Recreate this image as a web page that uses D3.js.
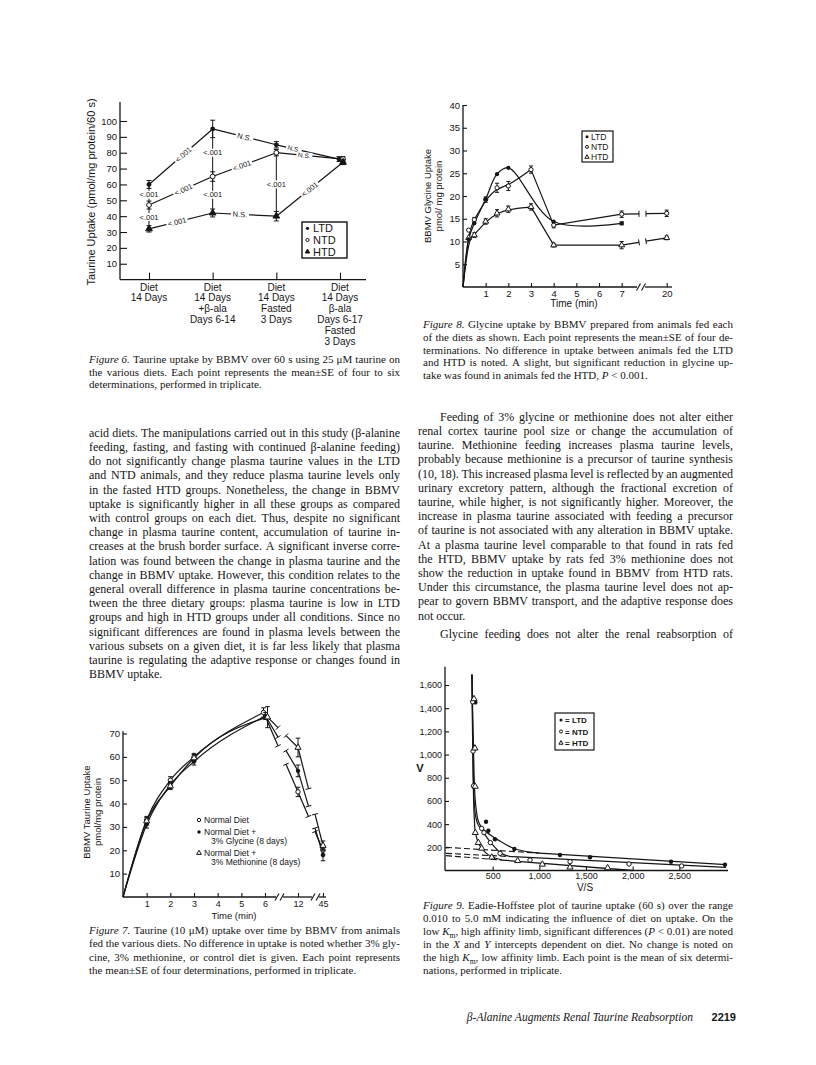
<!DOCTYPE html>
<html><head><meta charset="utf-8">
<script src="https://cdn.jsdelivr.net/npm/d3@7"></script>
<style>html,body{margin:0;padding:0;background:#fff;}svg{display:block;}</style>
</head><body>
<svg id="page" width="816" height="1065"></svg>
<script>
// ================= DATA =================
// Figure 6
const fig6Categories = [["Diet","14 Days"],["Diet","14 Days","+β-ala","Days 6-14"],["Diet","14 Days","Fasted","3 Days"],["Diet","14 Days","β-ala","Days 6-17","Fasted","3 Days"]];
const fig6LTD = [60, 95, 85, 76];
const fig6NTD = [47, 65, 80, 76];
const fig6HTD = [32, 42, 40, 74];
const fig6LTDse = [2.5, 5.5, 2, 1.5];
const fig6NTDse = [2.5, 3, 2, 1.5];
const fig6HTDse = [2, 2.5, 3, 1.5];
const fig6YTicks = [10, 20, 30, 40, 50, 60, 70, 80, 90, 100];
const fig6LTDlabels = ["<.001", "N.S.", "N.S."];
const fig6NTDlabels = ["<.001", "<.001", "N.S."];
const fig6HTDlabels = ["<.001", "N.S.", "<.001"];
const fig6ColumnLabel = "<.001";
const fig6Legend = ["LTD", "NTD", "HTD"];
// Figure 7
const fig7Times = [0, 1, 2, 3, 6, 12, 45];
const fig7Normal = [0, 33, 50, 60, 79, 45, 20];
const fig7Glycine = [0, 31, 48, 58, 77.5, 54, 18];
const fig7Methionine = [0, 32.5, 47.5, 59.5, 77, 64, 22];
const fig7NormalSE = [0, 1.5, 1.5, 1.5, 2, 2, 2];
const fig7GlycineSE = [0, 1.5, 1.5, 1.5, 1.5, 2.5, 2.5];
const fig7MethionineSE = [0, 1.5, 1.5, 1.5, 4.5, 4, 2];
const fig7XTicks = [1, 2, 3, 4, 5, 6, 12, 45];
const fig7YTicks = [10, 20, 30, 40, 50, 60, 70];
// Figure 8
const fig8LTDt = [0, 0.25, 0.5, 1, 1.5, 2, 4, 7];
const fig8LTD  = [0, 10.5, 14, 19.3, 24.8, 26.2, 14.4, 14];
const fig8NTDt = [0, 0.25, 0.5, 1, 1.5, 2, 3, 4, 7, 20];
const fig8NTD  = [0, 12.5, 14.8, 19.2, 21.8, 22.2, 25.8, 13.6, 16, 16.2];
const fig8NTDse = [0, 0, 0.5, 0.6, 1, 1, 0.8, 0.6, 0.7, 0.7];
const fig8HTDt = [0, 0.25, 0.5, 1, 1.5, 2, 3, 4, 7, 20];
const fig8HTD  = [0, 10.8, 11.4, 14.4, 16.2, 17.1, 17.6, 9.2, 9.2, 10.8];
const fig8HTDse = [0, 0, 0.5, 0.6, 0.8, 0.7, 0.7, 0.4, 0.8, 0.4];
const fig8XTicks = [1, 2, 3, 4, 5, 6, 7, 20];
const fig8YTicks = [5, 10, 15, 20, 25, 30, 35, 40];
// Figure 9  (V/S, V)
const fig9LTDvs = [314, 305, 300, 429, 454, 525, 732, 1221, 1543, 2411, 2989];
const fig9LTDv  = [1450, 1050, 730, 420, 343, 269, 185, 134, 114, 76, 50];
const fig9NTDvs = [286, 290, 295, 382, 407, 475, 579, 900, 1329, 1961, 2525];
const fig9NTDv  = [1455, 1030, 730, 363, 326, 240, 148, 90, 76, 56, 39];
const fig9HTDvs = [300, 310, 312, 314, 346, 382, 490, 768, 1032, 1329, 1732];
const fig9HTDv  = [1480, 1055, 725, 326, 240, 191, 114, 84, 53, 28, 22];
const fig9LTDfitVS = [278, 290, 300, 312, 328, 346, 380, 436, 561, 721, 900, 1000];
const fig9LTDfitV  = [1690, 1200, 850, 620, 500, 425, 375, 330, 262, 192, 158, 150];
const fig9NTDfitVS = [278, 286, 292, 300, 315, 340, 382, 430, 471, 530, 580, 640, 720];
const fig9NTDfitV  = [1690, 1200, 850, 620, 480, 400, 350, 295, 250, 195, 155, 130, 119];
const fig9HTDfitVS = [278, 284, 290, 296, 303, 310, 322, 346, 382, 430, 490, 600];
const fig9HTDfitV  = [1690, 1200, 850, 600, 450, 360, 300, 240, 190, 150, 118, 90];
const fig9LTDlimb = [[0, 200], [1000, 150], [3000, 50]];
const fig9NTDlimb = [[0, 148], [720, 119], [3000, 27]];
const fig9HTDlimb = [[0, 128], [600, 90], [2000, 0]];
const fig9YTicks = [200, 400, 600, 800, 1000, 1200, 1400, 1600];
const fig9XTicks = [500, 1000, 1500, 2000, 2500];

// Texts
const fig6Caption = ["*Figure* *6.* Taurine uptake by BBMV over 60 s using 25 μM taurine on","the various diets. Each point represents the mean±SE of four to six","determinations, performed in triplicate."];
const leftBody = [
"acid diets. The manipulations carried out in this study (β-alanine",
"feeding, fasting, and fasting with continued β-alanine feeding)",
"do not significantly change plasma taurine values in the LTD",
"and NTD animals, and they reduce plasma taurine levels only",
"in the fasted HTD groups. Nonetheless, the change in BBMV",
"uptake is significantly higher in all these groups as compared",
"with control groups on each diet. Thus, despite no significant",
"change in plasma taurine content, accumulation of taurine in-",
"creases at the brush border surface. A significant inverse corre-",
"lation was found between the change in plasma taurine and the",
"change in BBMV uptake. However, this condition relates to the",
"general overall difference in plasma taurine concentrations be-",
"tween the three dietary groups: plasma taurine is low in LTD",
"groups and high in HTD groups under all conditions. Since no",
"significant differences are found in plasma levels between the",
"various subsets on a given diet, it is far less likely that plasma",
"taurine is regulating the adaptive response or changes found in",
"BBMV uptake."];
const fig7Caption = ["*Figure* *7.* Taurine (10 μM) uptake over time by BBMV from animals","fed the various diets. No difference in uptake is noted whether 3% gly-","cine, 3% methionine, or control diet is given. Each point represents","the mean±SE of four determinations, performed in triplicate."];
const fig8Caption = ["*Figure* *8.* Glycine uptake by BBMV prepared from animals fed each","of the diets as shown. Each point represents the mean±SE of four de-","terminations. No difference in uptake between animals fed the LTD","and HTD is noted. A slight, but significant reduction in glycine up-","take was found in animals fed the HTD, *P* < 0.001."];
const rightBody = [
"Feeding of 3% glycine or methionine does not alter either",
"renal cortex taurine pool size or change the accumulation of",
"taurine. Methionine feeding increases plasma taurine levels,",
"probably because methionine is a precursor of taurine synthesis",
"(10, 18). This increased plasma level is reflected by an augmented",
"urinary excretory pattern, although the fractional excretion of",
"taurine, while higher, is not significantly higher. Moreover, the",
"increase in plasma taurine associated with feeding a precursor",
"of taurine is not associated with any alteration in BBMV uptake.",
"At a plasma taurine level comparable to that found in rats fed",
"the HTD, BBMV uptake by rats fed 3% methionine does not",
"show the reduction in uptake found in BBMV from HTD rats.",
"Under this circumstance, the plasma taurine level does not ap-",
"pear to govern BBMV transport, and the adaptive response does",
"not occur.",
"Glycine feeding does not alter the renal reabsorption of"];
const fig9Caption = ["*Figure* *9.* Eadie-Hoffstee plot of taurine uptake (60 s) over the range","0.010 to 5.0 mM indicating the influence of diet on uptake. On the","low *K*~m~, high affinity limb, significant differences (*P* < 0.01) are noted","in the *X* and *Y* intercepts dependent on diet. No change is noted on","the high *K*~m~, low affinity limb. Each point is the mean of six determi-","nations, performed in triplicate."];
const footerTitle = "β-Alanine Augments Renal Taurine Reabsorption";
const footerPage = "2219";

// ================= DRAWING =================
const INK = "#151515";
const SANS = "'Liberation Sans', Arial, sans-serif";
const SERIF = "'Liberation Serif', 'Times New Roman', serif";
const svg = d3.select("#page");
svg.append("rect").attr("width", 816).attr("height", 1065).attr("fill", "#fff");

function ln(g, x1, y1, x2, y2, w = 1.2, dash = null) {
  const l = g.append("line").attr("x1", x1).attr("y1", y1).attr("x2", x2).attr("y2", y2)
    .attr("stroke", INK).attr("stroke-width", w);
  if (dash) l.attr("stroke-dasharray", dash);
  return l;
}
function marker(g, type, x, y, r = 2.3) {
  if (type === "filled") g.append("circle").attr("cx", x).attr("cy", y).attr("r", r).attr("fill", INK);
  else if (type === "open") g.append("circle").attr("cx", x).attr("cy", y).attr("r", r).attr("fill", "#fff").attr("stroke", INK).attr("stroke-width", 1);
  else if (type === "square") g.append("rect").attr("x", x - r).attr("y", y - r).attr("width", 2 * r).attr("height", 2 * r).attr("fill", INK);
  else {
    g.append("path").attr("d", d3.symbol(d3.symbolTriangle, r * r * 3.4)())
      .attr("transform", `translate(${x},${y})`)
      .attr("fill", type === "trifill" ? INK : "#fff").attr("stroke", INK).attr("stroke-width", 1);
  }
}
function errBar(g, x, y1, y2, cap = 2.5) {
  ln(g, x, y1, x, y2, 1);
  ln(g, x - cap, y1, x + cap, y1, 1);
  ln(g, x - cap, y2, x + cap, y2, 1);
}
function slash(g, x, y, h = 3.5) { ln(g, x - 2, y + h, x + 2, y - h, 1.1); }
function styleAxis(g, size) {
  g.attr("font-family", SANS).attr("font-size", size);
  g.select(".domain").remove();
  g.selectAll("line").attr("stroke", INK).attr("stroke-width", 1.1);
  g.selectAll("text").attr("fill", INK);
}
function label(g, x, y, txt, size, anchor = "middle", extra = {}) {
  const t = g.append("text").attr("x", x).attr("y", y).attr("font-family", extra.family || SANS)
    .attr("font-size", size).attr("text-anchor", anchor).attr("fill", INK).text(txt);
  if (extra.weight) t.attr("font-weight", extra.weight);
  if (extra.style) t.attr("font-style", extra.style);
  if (extra.rotate) t.attr("transform", `rotate(${extra.rotate},${x},${y})`);
  return t;
}
function brokenSeg(g, p1, p2, gx0, gx1, w = 1.2) {
  const at = gx => { const t = (gx - p1[0]) / (p2[0] - p1[0]); return [gx, p1[1] + t * (p2[1] - p1[1])]; };
  const A = at(gx0), B = at(gx1);
  ln(g, p1[0], p1[1], A[0], A[1], w);
  ln(g, B[0], B[1], p2[0], p2[1], w);
  const dx = p2[0] - p1[0], dy = p2[1] - p1[1], L = Math.hypot(dx, dy);
  const nx = -dy / L * 3, ny = dx / L * 3;
  [A, B].forEach(P => ln(g, P[0] - nx, P[1] - ny, P[0] + nx, P[1] + ny, 1));
}

// ---------- justified text ----------
function parseWord(w) {
  const parts = []; const re = /(\*[^*]+\*|~[^~]+~|[^*~]+)/g; let m;
  while ((m = re.exec(w))) {
    const s = m[0];
    if (s[0] === "*") parts.push({ t: s.slice(1, -1), it: true });
    else if (s[0] === "~") parts.push({ t: s.slice(1, -1), sub: true });
    else parts.push({ t: s });
  }
  return parts;
}
function textLine(g, line, x0, x1, y, size, justify) {
  const words = line.split(" ");
  const nodes = words.map(w => {
    const t = g.append("text").attr("y", y).attr("font-family", SERIF).attr("font-size", size).attr("fill", INK);
    let prevSub = false;
    parseWord(w).forEach(p => {
      const ts = t.append("tspan").text(p.t);
      if (p.it) ts.attr("font-style", "italic");
      if (p.sub) { ts.attr("font-size", size * 0.7).attr("dy", 2.5); prevSub = true; }
      else if (prevSub) { ts.attr("dy", -2.5); prevSub = false; }
    });
    return t;
  });
  const widths = nodes.map(n => n.node().getComputedTextLength());
  const sum = d3.sum(widths);
  let sp = size * 0.25;
  if (justify && words.length > 1) sp = (x1 - x0 - sum) / (words.length - 1);
  let x = x0;
  nodes.forEach((n, i) => { n.attr("x", x); x += widths[i] + sp; });
}
function textBlock(g, lines, x0, x1, y0, lh, size, opts = {}) {
  lines.forEach((l, i) => {
    const last = (opts.lastIdx || []).includes(i) || (i === lines.length - 1 && !opts.justifyLast);
    const ind = (opts.indent || []).includes(i) ? opts.indentW : 0;
    const yy = opts.ys ? opts.ys[i] : y0 + i * lh;
    textLine(g, l, x0 + ind, x1, yy, size, !last);
  });
}

// ================= FIGURE 6 =================
(function () {
  const g = svg.append("g");
  const x = d3.scaleLinear().domain([0, fig6Categories.length - 1]).range([149, 340]);
  const y = d3.scaleLinear().domain([0, 100]).range([279.6, 121]);
  const ax = g.append("g").attr("transform", "translate(120,0)")
    .call(d3.axisLeft(y).tickValues(fig6YTicks).tickSize(-7).tickPadding(3));
  styleAxis(ax, 9.5);
  ln(g, 120, y(0), 120, y(112), 1.3);
  ln(g, 120, y(0), 366, y(0), 1.3);
  const bx = g.append("g").attr("transform", `translate(0,${y(0)})`)
    .call(d3.axisBottom(x).tickValues(d3.range(fig6Categories.length)).tickSize(-7).tickFormat(""));
  styleAxis(bx, 9.5);
  fig6Categories.forEach((lines, i) => lines.forEach((l, j) =>
    label(g, x(i), 290.5 + j * 10.9, l, 10)));
  label(g, 95, 192, "Taurine Uptake (pmol/mg protein/60 s)", 11, "middle", { rotate: -90 });

  const dxLast = [-1, 3, 3];
  const series = [
    { v: fig6LTD, se: fig6LTDse, type: "filled", labs: fig6LTDlabels, pos: [0.54, 0.5, 0.28] },
    { v: fig6NTD, se: fig6NTDse, type: "open", labs: fig6NTDlabels, pos: [0.54, 0.46, 0.42] },
    { v: fig6HTD, se: fig6HTDse, type: "trifill", labs: fig6HTDlabels, pos: [0.44, 0.43, 0.5] }
  ];
  const px = (s, i, k) => x(i) + (i === 3 ? dxLast[k] : 0);
  [0, 1, 2].forEach(i => {
    const vals = series.map(s => s.v[i]);
    const top = i === 2 ? fig6NTD[i] : d3.max(vals), bot = d3.min(vals);
    ln(g, x(i), y(top), x(i), y(bot), 1);
  });
  series.forEach((s, k) => {
    for (let i = 0; i < s.v.length - 1; i++) ln(g, px(s, i, k), y(s.v[i]), px(s, i + 1, k), y(s.v[i + 1]), 1.2);
  });
  series.forEach((s, k) => {
    for (let i = 0; i < s.v.length - 1; i++) {
      const x1 = px(s, i, k), y1 = y(s.v[i]), x2 = px(s, i + 1, k), y2 = y(s.v[i + 1]);
      const t = s.pos[i];
      const cx = x1 + t * (x2 - x1), cy = y1 + t * (y2 - y1);
      const ang = Math.atan2(y2 - y1, x2 - x1) * 180 / Math.PI;
      const small = i === 2 && k < 2;
      const fs = small ? 6.5 : 7.5;
      const lg = g.append("g").attr("transform", `translate(${cx},${cy}) rotate(${ang})`);
      const w = s.labs[i].length * fs * 0.5 + 3;
      lg.append("rect").attr("x", -w / 2).attr("y", -fs / 2).attr("width", w).attr("height", fs).attr("fill", "#fff");
      label(lg, 0, fs * 0.35, s.labs[i], fs);
    }
  });
  [[0, [[0, 1], [1, 2]]], [1, [[0, 1], [1, 2]]], [2, [[1, 2]]]].forEach(([i, pairs]) => {
    pairs.forEach(([a, b]) => {
      const mid = (series[a].v[i] + series[b].v[i]) / 2;
      g.append("rect").attr("x", x(i) - 10).attr("y", y(mid) - 4).attr("width", 20).attr("height", 8).attr("fill", "#fff");
      label(g, x(i), y(mid) + 2.6, fig6ColumnLabel, 7.5);
    });
  });
  series.forEach((s, k) => s.v.forEach((v, i) => {
    errBar(g, px(s, i, k), y(v + s.se[i]), y(v - s.se[i]), 2.5);
    marker(g, s.type, px(s, i, k), y(v), 2.4);
  }));
  g.append("rect").attr("x", 302).attr("y", 222).attr("width", 45).attr("height", 36)
    .attr("fill", "#fff").attr("stroke", INK).attr("stroke-width", 1.4);
  ["filled", "open", "trifill"].forEach((t, i) => {
    marker(g, t, 307.5, 228.3 + i * 11.7, 1.6);
    label(g, 313, 232.3 + i * 11.7, fig6Legend[i], 11, "start");
  });
})();

// ================= FIGURE 7 =================
(function () {
  const g = svg.append("g");
  const x = d3.scaleLinear().domain([0, 6, 12, 45]).range([123, 265, 298, 323]);
  const y = d3.scaleLinear().domain([0, 70]).range([897, 733.5]);
  const ay = g.append("g").attr("transform", "translate(123,0)")
    .call(d3.axisLeft(y).tickValues(fig7YTicks).tickSize(-4).tickPadding(3));
  styleAxis(ay, 9.5);
  const ax = g.append("g").attr("transform", `translate(0,${y(0)})`)
    .call(d3.axisBottom(x).tickValues(fig7XTicks).tickSize(-4).tickPadding(2));
  styleAxis(ax, 9);
  ax.selectAll("text").attr("dy", "0.9em");
  ln(g, 123, y(0), 123, y(71), 1.3);
  ln(g, 123, y(0), 276, y(0), 1.3); slash(g, 277, y(0)); slash(g, 282, y(0));
  ln(g, 283, y(0), 312, y(0), 1.3); slash(g, 313, y(0)); slash(g, 318, y(0));
  ln(g, 319, y(0), 326, y(0), 1.3);
  label(g, 234, 919, "Time (min)", 9.5);
  label(g, 90, 812, "BBMV Taurine Uptake", 9.5, "middle", { rotate: -90 });
  label(g, 101, 812, "pmol/mg protein", 9.5, "middle", { rotate: -90 });

  const series = [
    { v: fig7Normal, se: fig7NormalSE, type: "open", dx: -1.5 },
    { v: fig7Glycine, se: fig7GlycineSE, type: "filled", dx: 0.5 },
    { v: fig7Methionine, se: fig7MethionineSE, type: "tri", dx: 2.5 }
  ];
  const early = fig7Times.map((t, i) => i).filter(i => fig7Times[i] <= 6);
  series.forEach(s => {
    const pts = early.map(i => [x(fig7Times[i]) + (fig7Times[i] === 6 ? s.dx : 0), y(s.v[i])]);
    g.append("path").attr("d", d3.line().curve(d3.curveMonotoneX)(pts))
      .attr("fill", "none").attr("stroke", INK).attr("stroke-width", 1.2);
    const i6 = fig7Times.indexOf(6), i12 = fig7Times.indexOf(12), i45 = fig7Times.indexOf(45);
    const p6 = [x(6) + s.dx, y(s.v[i6])], p12 = [x(12), y(s.v[i12])], p45 = [x(45), y(s.v[i45])];
    brokenSeg(g, p6, p12, 278, 286);
    brokenSeg(g, p12, p45, 308.5, 315);
  });
  series.forEach(s => fig7Times.forEach((t, i) => {
    if (t === 0) return;
    const xx = x(t) + (t === 6 ? s.dx : 0);
    errBar(g, xx, y(s.v[i] + s.se[i]), y(s.v[i] - s.se[i]), 2.3);
    marker(g, s.type, xx, y(s.v[i]), 2.2);
  }));
  const lg = [["open", "Normal Diet", null, 820], ["filled", "Normal Diet +", "3% Glycine (8 days)", 832], ["tri", "Normal Diet +", "3% Methionine (8 days)", 853]];
  lg.forEach(([t, a, b, yy]) => {
    marker(g, t, 199, yy, 1.7);
    label(g, 204, yy + 3, a, 8.5, "start");
    if (b) label(g, 211, yy + 12, b, 8.5, "start");
  });
})();

// ================= FIGURE 8 =================
(function () {
  const g = svg.append("g");
  const x = d3.scaleLinear().domain([0, 7, 20]).range([463, 621.7, 666.7]);
  const y = d3.scaleLinear().domain([0, 40]).range([287, 105]);
  const ay = g.append("g").attr("transform", "translate(463,0)")
    .call(d3.axisLeft(y).tickValues(fig8YTicks).tickSize(-4).tickPadding(3));
  styleAxis(ay, 9.5);
  const ax = g.append("g").attr("transform", `translate(0,${y(0)})`)
    .call(d3.axisBottom(x).tickValues(fig8XTicks).tickSize(-4).tickPadding(2));
  styleAxis(ax, 9.5);
  ax.selectAll("text").attr("dy", "0.85em");
  ln(g, 463, y(0), 463, y(40), 1.3);
  ln(g, 463, y(0), 637, y(0), 1.3); slash(g, 638.5, y(0)); slash(g, 643.5, y(0));
  ln(g, 645, y(0), 672, y(0), 1.3);
  label(g, 574, 307, "Time (min)", 10);
  label(g, 431, 196, "BBMV Glycine Uptake", 9.5, "middle", { rotate: -90 });
  label(g, 442, 196, "pmol/ mg protein", 9.5, "middle", { rotate: -90 });

  const P = (ts, vs) => ts.map((t, i) => [x(t), y(vs[i])]);
  g.append("path").attr("d", d3.line().curve(d3.curveCatmullRom)(P(fig8LTDt, fig8LTD)))
    .attr("fill", "none").attr("stroke", INK).attr("stroke-width", 1.2);
  [[fig8NTDt, fig8NTD], [fig8HTDt, fig8HTD]].forEach(([ts, vs]) => {
    const pts = P(ts, vs);
    const i3 = ts.indexOf(3), i7 = ts.indexOf(7);
    g.append("path").attr("d", d3.line().curve(d3.curveBasis)(pts.slice(0, i3 + 1)))
      .attr("fill", "none").attr("stroke", INK).attr("stroke-width", 1.2);
    g.append("path").attr("d", d3.line()(pts.slice(i3, i7 + 1)))
      .attr("fill", "none").attr("stroke", INK).attr("stroke-width", 1.2);
    brokenSeg(g, pts[i7], pts[i7 + 1], 639, 646);
  });
  fig8HTDt.forEach((t, i) => { if (t === 0) return;
    if (fig8HTDse[i]) errBar(g, x(t), y(fig8HTD[i] + fig8HTDse[i]), y(fig8HTD[i] - fig8HTDse[i]), 2);
    marker(g, "tri", x(t), y(fig8HTD[i]), 2.1); });
  fig8NTDt.forEach((t, i) => { if (t === 0) return;
    if (fig8NTDse[i]) errBar(g, x(t), y(fig8NTD[i] + fig8NTDse[i]), y(fig8NTD[i] - fig8NTDse[i]), 2);
    marker(g, "open", x(t), y(fig8NTD[i]), 2.1); });
  fig8LTDt.forEach((t, i) => { if (t === 0) return;
    marker(g, t === 7 ? "square" : "filled", x(t), y(fig8LTD[i]), 2.1); });
  g.append("rect").attr("x", 582).attr("y", 131).attr("width", 31).attr("height", 31)
    .attr("fill", "#fff").attr("stroke", INK).attr("stroke-width", 1.2);
  ["filled", "open", "tri"].forEach((t, i) => {
    marker(g, t, 587, 136.7 + i * 10.2, 1.5);
    label(g, 591, 139.8 + i * 10.2, fig6Legend[i], 8.5, "start");
  });
})();

// ================= FIGURE 9 =================
(function () {
  const g = svg.append("g");
  const x = d3.scaleLinear().domain([0, 3000]).range([446, 726]);
  const y = d3.scaleLinear().domain([0, 1600]).range([870.5, 685]);
  const ay = g.append("g").attr("transform", "translate(445,0)")
    .call(d3.axisLeft(y).tickValues(fig9YTicks).tickSize(-4).tickPadding(3).tickFormat(d3.format(",")));
  styleAxis(ay, 9);
  const ax = g.append("g").attr("transform", `translate(0,${y(0)})`)
    .call(d3.axisBottom(x).tickValues(fig9XTicks).tickSize(-4).tickPadding(1).tickFormat(d3.format(",")));
  styleAxis(ax, 9);
  ax.selectAll("text").attr("dy", "0.85em");
  ln(g, 445, y(0), 445, y(1757), 1.3);
  ln(g, 445, y(0), 728, y(0), 1.3);
  label(g, 420, 772, "V", 11, "middle", { weight: "bold" });
  label(g, 585, 891, "V/S", 10);

  const series = [
    { vs: fig9LTDvs, v: fig9LTDv, fvs: fig9LTDfitVS, fv: fig9LTDfitV, limb: fig9LTDlimb, type: "filled" },
    { vs: fig9NTDvs, v: fig9NTDv, fvs: fig9NTDfitVS, fv: fig9NTDfitV, limb: fig9NTDlimb, type: "open" },
    { vs: fig9HTDvs, v: fig9HTDv, fvs: fig9HTDfitVS, fv: fig9HTDfitV, limb: fig9HTDlimb, type: "tri" }
  ];
  series.forEach(s => {
    const pts = s.fvs.map((d, i) => [x(d), y(s.fv[i])]);
    g.append("path").attr("d", d3.line().curve(d3.curveCatmullRom)(pts))
      .attr("fill", "none").attr("stroke", INK).attr("stroke-width", 1.2);
    ln(g, x(s.limb[0][0]), y(s.limb[0][1]), x(s.limb[1][0]), y(s.limb[1][1]), 1.1, "6,3");
    ln(g, x(s.limb[1][0]), y(s.limb[1][1]), x(s.limb[2][0]), y(s.limb[2][1]), 1.3);
  });
  series.forEach(s => s.vs.forEach((d, i) => marker(g, s.type, x(d), y(s.v[i]), 2.2)));
  g.append("rect").attr("x", 555).attr("y", 713).attr("width", 39).attr("height", 37)
    .attr("fill", "#fff").attr("stroke", INK).attr("stroke-width", 1.2);
  ["filled", "open", "tri"].forEach((t, i) => {
    marker(g, t, 561, 720 + i * 11.5, 1.5);
    label(g, 565, 723 + i * 11.5, "= " + fig6Legend[i], 8, "start", { weight: "bold" });
  });
})();

// ================= TEXT =================
const T = svg.append("g");
textBlock(T, fig6Caption, 89, 400, 363, 12.5, 11);
textBlock(T, leftBody, 89, 400, 436.7, 14.2, 12);
textBlock(T, fig7Caption, 89, 400, 934, 13.4, 11);
textBlock(T, fig8Caption, 423, 733, 328, 12.8, 11);
textBlock(T, rightBody, 418, 733, 420.7, 14.2, 12, {
  indent: [0, 15], indentW: 22, lastIdx: [14], justifyLast: true,
  ys: rightBody.map((l, i) => 420.7 + i * 14.2 + (i === 15 ? 4 : 0))
});
textBlock(T, fig9Caption, 423, 733, 909, 13, 11);
label(T, 693, 1021, footerTitle, 11.5, "end", { family: SERIF, style: "italic" });
label(T, 736, 1021, footerPage, 11, "end", { weight: "bold" });
</script>
</body></html>
